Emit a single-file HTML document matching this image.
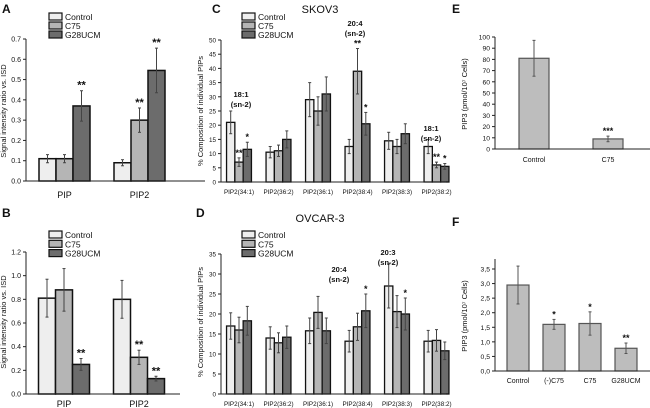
<!DOCTYPE html>
<html><head><meta charset="utf-8">
<style>
body{margin:0;background:#fff;}
svg{display:block;font-family:"Liberation Sans",Arial,sans-serif;}
</style></head>
<body>
<svg id="fig" width="650" height="408" viewBox="0 0 650 408" xmlns="http://www.w3.org/2000/svg"></svg>
<script>
// ---- Data ----
const seriesNames = ["Control","C75","G28UCM"];
const seriesFills = ["#eeeeee","#b5b5b5","#6c6c6c"];

const aCats = ["PIP","PIP2"];
const aControl = [0.11,0.09], aControlErr=[0.02,0.015];
const aC75 = [0.11,0.30], aC75Err=[0.02,0.06];
const aG28 = [0.37,0.545], aG28Err=[0.075,0.11];
const aStars = [["","","**"],["","**","**"]];
const aTicks = ["0.0","0.1","0.2","0.3","0.4","0.5","0.6","0.7"];

const bCats = ["PIP","PIP2"];
const bControl=[0.81,0.80], bControlErr=[0.16,0.16];
const bC75=[0.88,0.31], bC75Err=[0.18,0.06];
const bG28=[0.25,0.13], bG28Err=[0.05,0.02];
const bStars=[["","","**"],["","**","**"]];
const bTicks=["0.0","0.2","0.4","0.6","0.8","1.0","1.2"];

const lipidCats=["PIP2(34:1)","PIP2(36:2)","PIP2(36:1)","PIP2(38:4)","PIP2(38:3)","PIP2(38:2)"];
const cControl=[21,10.5,29,12.5,14.5,12.5], cControlErr=[4,2,6,2.5,3,2.5];
const cC75=[7,11,25,39,12.5,6], cC75Err=[1.5,2,5,8,2.5,1];
const cG28=[11.5,15,31,20.5,17,5.5], cG28Err=[2.5,3,6,4,3.5,1];
const cStars=[["","**","*"],["","",""],["","",""],["","**","*"],["","",""],["","**","*"]];
const cTicks=["0","5","10","15","20","25","30","35","40","45","50"];

const dControl=[17,14,15.8,13.2,27,13.2], dControlErr=[3.3,2.8,3.2,2.7,5.5,2.7];
const dC75=[16,12.8,20.4,16.8,20.6,13.4], dC75Err=[3.2,2.5,4,3.4,4,2.7];
const dG28=[18.3,14.2,15.8,20.8,20,10.8], dG28Err=[3.6,2.8,3.2,4.2,4,2.2];
const dStars=[["","",""],["","",""],["","",""],["","","*"],["","","*"],["","",""]];
const dTicks=["0","5","10","15","20","25","30","35"];

const eCats=["Control","C75"];
const eValues=[81,9], eErr=[16,2.5], eStars=["","***"];
const eTicks=["0","10","20","30","40","50","60","70","80","90","100"];

const fCats=["Control","(-)C75","C75","G28UCM"];
const fValues=[2.95,1.6,1.63,0.78], fErr=[0.65,0.17,0.4,0.18], fStars=["","*","*","**"];
const fTicks=["0,0","0,5","1,0","1,5","2,0","2,5","3,0","3,5"];

// ---- helpers ----
const svg=document.getElementById('fig');
const NS="http://www.w3.org/2000/svg";
function mk(tag,attrs,parent){const e=document.createElementNS(NS,tag);for(const k in attrs)e.setAttribute(k,attrs[k]);(parent||svg).appendChild(e);return e;}
function txt(s,x,y,size,anchor,parent,extra){const e=mk('text',Object.assign({x:x,y:y,'font-size':size,'text-anchor':anchor||'start',fill:'#111'},extra||{}),parent);e.textContent=s;return e;}

function panel(name){const g=mk('g',{});return g;}

function yAxis(g,x,y0,y1,ticks,tickSize,labelSize){
  mk('line',{x1:x,y1:y0,x2:x,y2:y1,stroke:'#222','stroke-width':1},g);
  const n=ticks.length-1;
  ticks.forEach((t,i)=>{const y=y0+(y1-y0)*i/n;
    mk('line',{x1:x-3,y1:y,x2:x,y2:y,stroke:'#222','stroke-width':1},g);
    const l=txt(t,x-5,y+2.5,labelSize||7,'end',g);
    
  });
}
function yTitle(g,s,x,y,size){const t=txt(s,0,0,size||7.5,'middle',g,{transform:`translate(${x},${y}) rotate(-90)`});return t;}

function legend(g,x,y,dy){
  seriesNames.forEach((s,i)=>{
    const r=mk('rect',{x:x,y:y+i*dy,width:13,height:7,fill:seriesFills[i],stroke:'#111','stroke-width':1.2},g);
    
    const t=txt(s,x+16,y+i*dy+7,8.5,'start',g);
    
  });
}

function bar(g,x,w,v,err,sy,base,fill,stroke,sw,errCol,star,starSize){
  const y=sy(v);
  const r=mk('rect',{x:x,y:y,width:w,height:base-y,fill:fill,stroke:stroke,'stroke-width':sw},g);
  
  const cx=x+w/2;
  mk('line',{x1:cx,y1:sy(v+err),x2:cx,y2:sy(Math.max(0,v-err)),stroke:errCol,'stroke-width':1},g);
  mk('line',{x1:cx-1.5,y1:sy(v+err),x2:cx+1.5,y2:sy(v+err),stroke:errCol,'stroke-width':1},g);
  mk('line',{x1:cx-1.5,y1:sy(Math.max(0,v-err)),x2:cx+1.5,y2:sy(Math.max(0,v-err)),stroke:errCol,'stroke-width':1},g);
  if(star){const s=txt(star,cx,sy(v+err)-2,starSize||10,'middle',g,{'font-weight':'bold'});}
}

function groupedChart(g,opt){
  const {ax,y0,y1,max,xEnd,centers,bw,cats,series,errs,stars,ticks,catY,catSize,starSize,sw}=opt;
  const sy=v=>y0-(v/max)*(y0-y1);
  yAxis(g,ax,y0,y1,ticks,0,opt.tickSize);
  centers.forEach((c,ci)=>{
    series.forEach((arr,si)=>{
      const x=c-1.5*bw+si*bw;
      bar(g,x,bw,arr[ci],errs[si][ci],sy,y0,seriesFills[si],'#111',sw||1.5,'#444',stars[ci][si],starSize);
    });
    const l=txt(cats[ci],c,catY,catSize,'middle',g);
    
  });
  mk('line',{x1:ax,y1:y0,x2:xEnd,y2:y0,stroke:'#222','stroke-width':1},g);
  return sy;
}

function letter(g,s,x,y){const t=txt(s,x,y,12,'start',g,{'font-weight':'bold'});}

// ---- Panel A ----
let g=panel('panel-a');
letter(g,'A',2,13);
legend(g,49,13,9);
yTitle(g,'Signal intensity ratio vs. ISD',6,111,7.5);
groupedChart(g,{ax:26,y0:181,y1:39,max:0.7,xEnd:205,centers:[64.5,139.5],bw:17,cats:aCats,
  series:[aControl,aC75,aG28],errs:[aControlErr,aC75Err,aG28Err],stars:aStars,ticks:aTicks,catY:198,catSize:9,starSize:11,tickSize:7});

// ---- Panel B ----
g=panel('panel-b');
letter(g,'B',2,217);
legend(g,49,231,9.3);
yTitle(g,'Signal intensity ratio vs. ISD',6,322,7.5);
groupedChart(g,{ax:26,y0:394,y1:252,max:1.2,xEnd:180,centers:[64,139],bw:17,cats:bCats,
  series:[bControl,bC75,bG28],errs:[bControlErr,bC75Err,bG28Err],stars:bStars,ticks:bTicks,catY:407,catSize:9,starSize:11,tickSize:7});

// ---- Panel C ----
g=panel('panel-c');
letter(g,'C',212,13);
let t=txt('SKOV3',320,13,11,'middle',g);
legend(g,242,13,9);
yTitle(g,'% Composition of individual PIPs',203,111,7.5);
groupedChart(g,{ax:221,y0:182,y1:40,max:50,xEnd:446,centers:[239,278.5,318,357.5,397,436.5],bw:8.3,cats:lipidCats,
  series:[cControl,cC75,cG28],errs:[cControlErr,cC75Err,cG28Err],stars:cStars,ticks:cTicks,catY:194,catSize:6.3,starSize:9,sw:1.3,tickSize:6.3});
[['18:1',241,97],['(sn-2)',241,107],['20:4',355,26],['(sn-2)',355,36],['18:1',431,131],['(sn-2)',431,141]].forEach(a=>{
  const e=txt(a[0],a[1],a[2],7.5,'middle',g,{'font-weight':'bold'});});

// ---- Panel D ----
g=panel('panel-d');
letter(g,'D',196,217);
t=txt('OVCAR-3',320,222,11,'middle',g);
legend(g,242,231,9.3);
yTitle(g,'% Composition of individual PIPs',203,322,7.5);
groupedChart(g,{ax:221,y0:394,y1:254,max:35,xEnd:446,centers:[239,278.5,318,357.5,397,436.5],bw:8.3,cats:lipidCats,
  series:[dControl,dC75,dG28],errs:[dControlErr,dC75Err,dG28Err],stars:dStars,ticks:dTicks,catY:406,catSize:6.3,starSize:9,sw:1.3,tickSize:6.3});
[['20:4',339,272],['(sn-2)',339,282],['20:3',388,255],['(sn-2)',388,265]].forEach(a=>{
  const e=txt(a[0],a[1],a[2],7.5,'middle',g,{'font-weight':'bold'});});

// ---- Panel E ----
g=panel('panel-e');
letter(g,'E',452,13);
yTitle(g,'PIP3 (pmol/10⁷ Cells)',467,94,7.5);
(function(){
  const ax=495,y0=149,y1=37,max=100;
  const sy=v=>y0-(v/max)*(y0-y1);
  yAxis(g,ax,y0,y1,eTicks,0,6.8);
  const centers=[534,608];
  eCats.forEach((c,i)=>{
    bar(g,centers[i]-15,30,eValues[i],eErr[i],sy,y0,'#bdbdbd','#555',1.2,'#555',eStars[i],9);
    const l=txt(c,centers[i],162,7,'middle',g);
  });
  mk('line',{x1:ax,y1:y0,x2:650,y2:y0,stroke:'#222','stroke-width':1},g);
})();

// ---- Panel F ----
g=panel('panel-f');
letter(g,'F',452,226);
yTitle(g,'PIP3 (pmol/10⁷ Cells)',467,316,7.5);
(function(){
  const ax=495,y0=371,y1=269,max=3.5;
  const sy=v=>y0-(v/max)*(y0-y1);
  mk('line',{x1:ax,y1:259,x2:ax,y2:y0,stroke:'#222','stroke-width':1},g);
  yAxis(g,ax,y0,y1,fTicks,0,6.8);
  const centers=[518,554,590,626];
  fCats.forEach((c,i)=>{
    bar(g,centers[i]-11,22,fValues[i],fErr[i],sy,y0,'#bdbdbd','#555',1.2,'#555',fStars[i],9);
    const l=txt(c,centers[i],383,7,'middle',g);
  });
  mk('line',{x1:ax,y1:y0,x2:650,y2:y0,stroke:'#222','stroke-width':1},g);
})();
</script>
</body></html>
